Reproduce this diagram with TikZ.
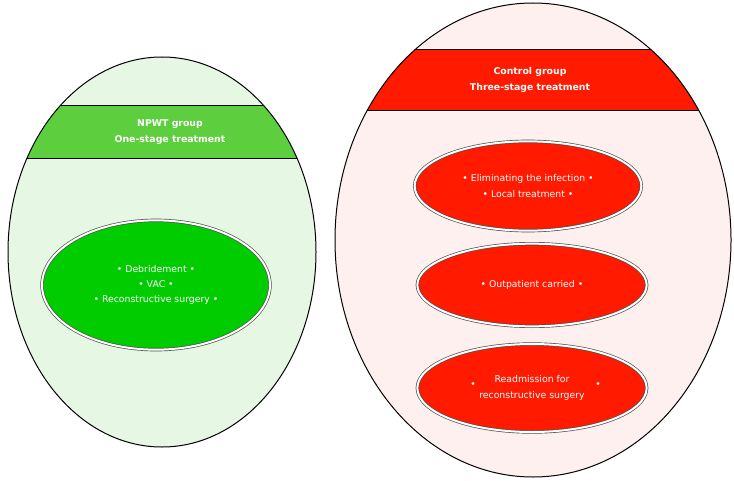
\documentclass[tikz,border=0pt]{standalone}
\usepackage{fontspec}
\setmainfont{DejaVu Sans}
\usetikzlibrary{shapes.geometric}
\definecolor{paleg}{HTML}{E6F8E4}
\definecolor{bandg}{HTML}{5DCF3F}
\definecolor{innerg}{HTML}{00CC00}
\definecolor{paler}{HTML}{FDF0EE}
\definecolor{bandr}{HTML}{FF1A00}
\tikzset{
  stage/.style = {
    ellipse, draw=black!70, double=white, double distance=1.5pt,
    line width=0.5pt, text=white, align=center, inner sep=0pt,
    font=\fontsize{7}{11.5}\selectfont
  },
  header/.style = {text=white, align=center, font=\bfseries\fontsize{7}{11.5}\selectfont}
}

\begin{document}
\begin{tikzpicture}[x=0.75pt,y=-0.75pt]
  \useasboundingbox (0,0) rectangle (734,481);
  % NPWT group
  \begin{scope}
    \clip (162,252) ellipse (154 and 195);
    \fill[paleg] (0,0) rectangle (330,481);
    \fill[bandg] (0,106) rectangle (330,158);
    \draw[line width=0.75pt] (0,106) -- (330,106) (0,158) -- (330,158);
  \end{scope}
  \draw[line width=0.75pt] (162,252) ellipse (154 and 195);
  \node[header] (npwt) at (170,132) {NPWT group\\One-stage treatment};
  \node[stage, fill=innerg, minimum width=171pt, minimum height=97pt] (onestage) at (156,285)
    {• Debridement •\\• VAC •\\• Reconstructive surgery •};
  % control group
  \begin{scope}
    \clip (533,240) ellipse (198 and 237);
    \fill[paler] (330,0) rectangle (734,481);
    \fill[bandr] (330,50) rectangle (734,111);
    \draw[line width=0.75pt] (330,50) -- (734,50) (330,111) -- (734,111);
  \end{scope}
  \draw[line width=0.75pt] (533,240) ellipse (198 and 237);
  \node[header] (control) at (530,80) {Control group\\Three-stage treatment};
  \node[stage, fill=bandr, minimum width=170pt, minimum height=67pt] (first) at (528,186)
    {• Eliminating the infection •\\• Local treatment •};
  \node[stage, fill=bandr, minimum width=172pt, minimum height=62pt] (second) at (532,285)
    {• Outpatient carried •};
  \node[stage, fill=bandr, minimum width=172pt, minimum height=66pt] (third) at (532,388)
    {Readmission for\\reconstructive surgery};
  \node[text=white, font=\fontsize{7}{8}\selectfont] (lbullet) at (473,385) {•};
  \node[text=white, font=\fontsize{7}{8}\selectfont] (rbullet) at (598,385) {•};
\end{tikzpicture}
\end{document}
